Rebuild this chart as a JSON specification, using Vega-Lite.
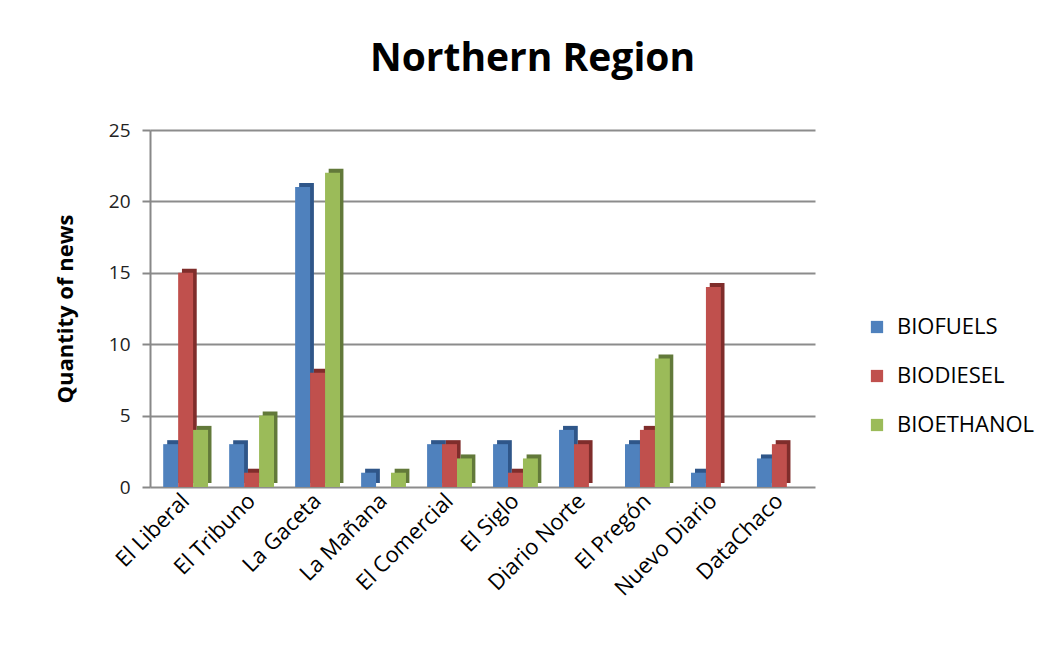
{
  "$schema": "https://vega.github.io/schema/vega-lite/v6.json",
  "autosize": "none",
  "width": 665,
  "height": 357,
  "padding": {"left": 150, "top": 130, "right": 229, "bottom": 175},
  "background": "white",
  "title": {"text": "Northern Region", "font": "Open Sans", "fontSize": 39, "fontWeight": "bold", "color": "#000000", "anchor": "middle", "dx": 50, "offset": 42},
  "data": {"values": [
    {"paper": "El Liberal", "type": "BIOFUELS", "news": 3},
    {"paper": "El Liberal", "type": "BIODIESEL", "news": 15},
    {"paper": "El Liberal", "type": "BIOETHANOL", "news": 4},
    {"paper": "El Tribuno", "type": "BIOFUELS", "news": 3},
    {"paper": "El Tribuno", "type": "BIODIESEL", "news": 1},
    {"paper": "El Tribuno", "type": "BIOETHANOL", "news": 5},
    {"paper": "La Gaceta", "type": "BIOFUELS", "news": 21},
    {"paper": "La Gaceta", "type": "BIODIESEL", "news": 8},
    {"paper": "La Gaceta", "type": "BIOETHANOL", "news": 22},
    {"paper": "La Mañana", "type": "BIOFUELS", "news": 1},
    {"paper": "La Mañana", "type": "BIODIESEL", "news": 0},
    {"paper": "La Mañana", "type": "BIOETHANOL", "news": 1},
    {"paper": "El Comercial", "type": "BIOFUELS", "news": 3},
    {"paper": "El Comercial", "type": "BIODIESEL", "news": 3},
    {"paper": "El Comercial", "type": "BIOETHANOL", "news": 2},
    {"paper": "El Siglo", "type": "BIOFUELS", "news": 3},
    {"paper": "El Siglo", "type": "BIODIESEL", "news": 1},
    {"paper": "El Siglo", "type": "BIOETHANOL", "news": 2},
    {"paper": "Diario Norte", "type": "BIOFUELS", "news": 4},
    {"paper": "Diario Norte", "type": "BIODIESEL", "news": 3},
    {"paper": "Diario Norte", "type": "BIOETHANOL", "news": 0},
    {"paper": "El Pregón", "type": "BIOFUELS", "news": 3},
    {"paper": "El Pregón", "type": "BIODIESEL", "news": 4},
    {"paper": "El Pregón", "type": "BIOETHANOL", "news": 9},
    {"paper": "Nuevo Diario", "type": "BIOFUELS", "news": 1},
    {"paper": "Nuevo Diario", "type": "BIODIESEL", "news": 14},
    {"paper": "Nuevo Diario", "type": "BIOETHANOL", "news": 0},
    {"paper": "DataChaco", "type": "BIOFUELS", "news": 2},
    {"paper": "DataChaco", "type": "BIODIESEL", "news": 3},
    {"paper": "DataChaco", "type": "BIOETHANOL", "news": 0}
  ]},
  "encoding": {
    "x": {"field": "paper", "type": "nominal", "sort": null,
      "scale": {"paddingInner": 0.32, "paddingOuter": 0.2},
      "axis": {"title": null, "labelAngle": -45, "labelAlign": "right", "labelBaseline": "middle", "labelFont": "Open Sans", "labelFontSize": 22, "labelColor": "#000000", "labelPadding": 10, "domain": false, "ticks": false, "grid": false}},
    "y": {"field": "news", "type": "quantitative",
      "scale": {"domain": [0, 25]},
      "axis": {"title": "Quantity of news", "titleFont": "Open Sans", "titleFontSize": 22, "titleFontWeight": "bold", "titleColor": "#000000", "titlePadding": 31,
        "values": [0, 5, 10, 15, 20, 25], "labelFont": "Open Sans", "labelFontSize": 19, "labelColor": "#222222", "labelPadding": 12,
        "domainColor": "#888888", "domainWidth": 2, "tickColor": "#888888", "tickWidth": 2, "tickSize": 8,
        "gridColor": "#8c8c8c", "gridWidth": 2}}
  },
  "layer": [
    {
      "transform": [{"filter": "datum.news > 0"}],
      "mark": {"type": "bar", "yOffset": -4},
      "encoding": {
        "xOffset": {"field": "type", "type": "nominal", "sort": ["BIOFUELS", "BIODIESEL", "BIOETHANOL"],
          "scale": {"domain": ["BIOFUELS", "BIODIESEL", "BIOETHANOL"], "range": [4, 48.3]}},
        "fill": {"field": "type", "type": "nominal", "sort": ["BIOFUELS", "BIODIESEL", "BIOETHANOL"],
          "scale": {"domain": ["BIOFUELS", "BIODIESEL", "BIOETHANOL"], "range": ["#2f5689", "#7f2d2b", "#62793a"]}, "legend": null}
      }
    },
    {
      "transform": [{"filter": "datum.news > 0"}],
      "mark": {"type": "bar"},
      "encoding": {
        "xOffset": {"field": "type", "type": "nominal", "sort": ["BIOFUELS", "BIODIESEL", "BIOETHANOL"],
          "scale": {"domain": ["BIOFUELS", "BIODIESEL", "BIOETHANOL"]}},
        "color": {"field": "type", "type": "nominal", "sort": ["BIOFUELS", "BIODIESEL", "BIOETHANOL"],
          "scale": {"domain": ["BIOFUELS", "BIODIESEL", "BIOETHANOL"], "range": ["#4f81bd", "#c0504d", "#9bbb59"]},
          "legend": {"title": null, "orient": "none", "legendX": 716, "legendY": 186, "symbolType": "square", "symbolSize": 150, "symbolStrokeWidth": 0,
            "labelFont": "Open Sans", "labelFontSize": 22, "labelColor": "#000000", "rowPadding": 27, "labelOffset": 9}}
      }
    }
  ],
  "resolve": {"scale": {"fill": "independent", "color": "independent", "xOffset": "independent"}, "legend": {"fill": "independent", "color": "independent"}},
  "config": {"view": {"stroke": null}}
}
